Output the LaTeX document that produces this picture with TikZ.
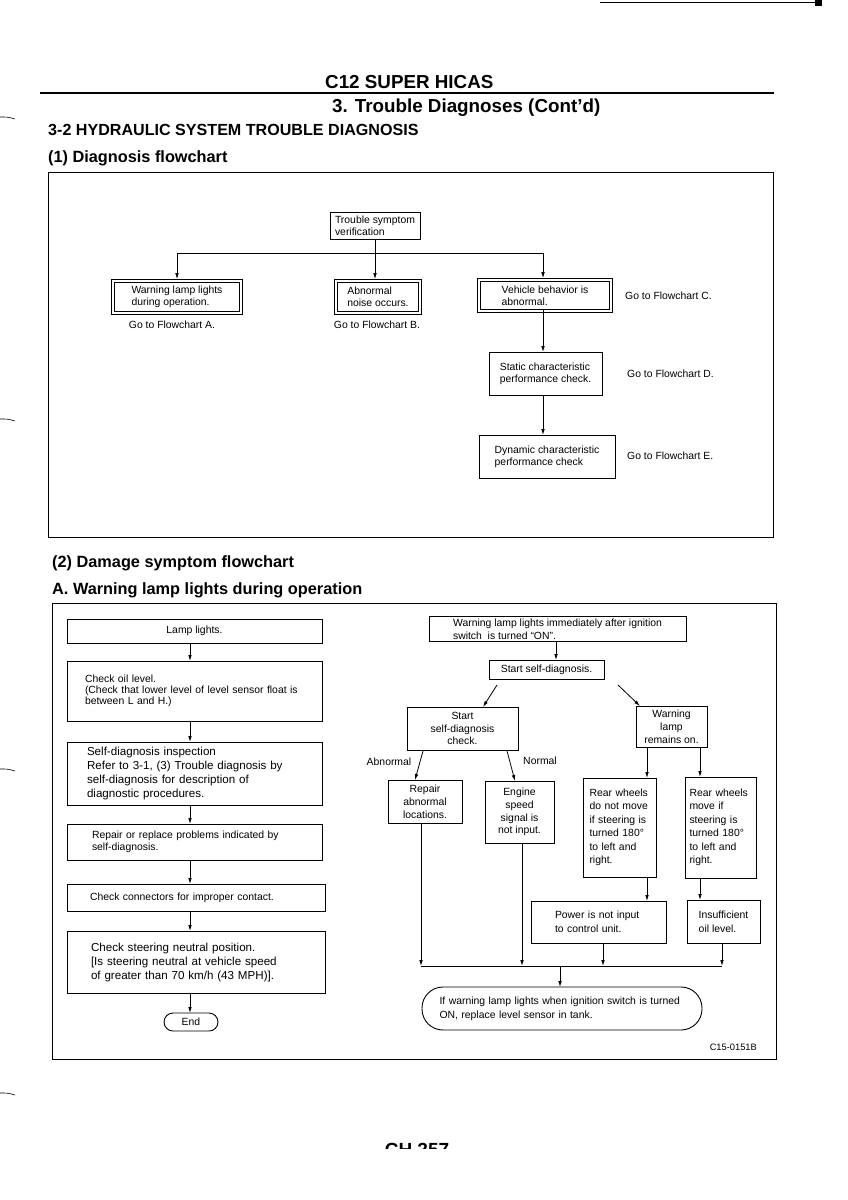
\documentclass[tikz,border=0pt]{standalone}
\usepackage{fontspec}
\setmainfont{Liberation Sans}
\usetikzlibrary{arrows.meta}
\newcommand\fA{\fontsize{10.4pt}{12pt}\selectfont}
\newcommand\fB{\fontsize{10.4pt}{12.8pt}\selectfont}
\newcommand\fO{\fontsize{10.4pt}{11.2pt}\selectfont}
\newcommand\fC{\fontsize{11.6pt}{14pt}\selectfont}
\newcommand\fH{\fontsize{18.8pt}{22pt}\selectfont\bfseries}
\newcommand\fS{\fontsize{16.3pt}{19pt}\selectfont\bfseries}
\begin{document}
\begin{tikzpicture}[x=1pt,y=-1pt,
  bx/.style={draw, line width=0.9pt, inner sep=0pt, outer sep=0pt, font=\fB, align=center},
  dbx/.style={bx, double, double distance=2pt, line width=0.8pt, font=\fA},
  ln/.style={line width=0.8pt},
  arr/.style={line width=0.8pt, -{Latex[length=6pt,width=3.6pt]}},
  lbl/.style={inner sep=0pt, font=\fA},
  frame/.style={line width=1pt}]
\fill[white] (0,0) rectangle (848,1200);
\useasboundingbox (0,0) rectangle (848,1200);

% scan marks
\draw[line width=0.6pt] (600,2) -- (815,2);
\fill (815,0) rectangle (822,6);
\foreach \yy in {119,421,771,1095}
  \draw[line width=0.6pt] (0,\yy-2) .. controls (8,\yy-2) .. (15,\yy);

% headers
\node[anchor=base west, inner sep=0pt, font=\fH] (h1) at (325,88) {C12 SUPER HICAS};
\draw[line width=2.6pt] (40,93) -- (774,93);
\node[anchor=base west, inner sep=0pt, font=\fH] (h2) at (332,112) {3. Trouble Diagnoses (Cont'd)};
\node[anchor=base west, inner sep=0pt, font=\fontsize{16.1pt}{19pt}\selectfont\bfseries] (h3) at (48,135) {3-2 HYDRAULIC SYSTEM TROUBLE DIAGNOSIS};
\node[anchor=base west, inner sep=0pt, font=\fS] (h4) at (48,162) {(1) Diagnosis flowchart};
\node[anchor=base west, inner sep=0pt, font=\fS] (h5) at (52,567) {(2) Damage symptom flowchart};
\node[anchor=base west, inner sep=0pt, font=\fS] (h6) at (52,594) {A. Warning lamp lights during operation};

% frames
\draw[frame] (48,172) rectangle (773,537);
\draw[frame] (52,603) rectangle (776,1059);

% ---------- Flowchart 1 ----------
\node[bx, font=\fA, minimum width=90pt, minimum height=27pt, align=left] (T) at (375,225.5) {Trouble symptom\\verification};
\node[dbx, minimum width=128pt, minimum height=32pt, align=left] (WL) at (177,297) {Warning lamp lights\\during operation.};
\node[dbx, minimum width=84pt, minimum height=32pt, align=left] (AN) at (378,297) {Abnormal\\noise occurs.};
\node[dbx, minimum width=132pt, minimum height=31pt, align=left] (VB) at (545,295.5) {Vehicle behavior is\\abnormal.};
\node[bx, font=\fA, minimum width=113pt, minimum height=43pt, align=left] (SC) at (545.5,373.5) {Static characteristic\\performance check.};
\node[bx, font=\fA, minimum width=136pt, minimum height=43pt, align=left] (DC) at (547,456.5) {Dynamic characteristic\\performance check};

\node[lbl] (gA) at (172,325) {Go to Flowchart A.};
\node[lbl] (gB) at (377,325) {Go to Flowchart B.};
\node[lbl, anchor=west] (gC) at (625,296) {Go to Flowchart C.};
\node[lbl, anchor=west] (gD) at (627,374) {Go to Flowchart D.};
\node[lbl, anchor=west] (gE) at (627,456) {Go to Flowchart E.};

\coordinate (j1) at (375,253);
\coordinate (jl) at (177,253);
\coordinate (jr) at (543,253);
\draw[ln] (T.south -| j1) -- (j1);
\draw[ln] (jl) -- (jr);
\draw[arr, shorten >=1.8pt] (jl) -- (WL.north -| jl);
\draw[arr, shorten >=1.8pt] (j1) -- (AN.north -| j1);
\draw[arr, shorten >=1.8pt] (jr) -- (VB.north -| jr);
\draw[arr, shorten <=-1.8pt] (VB.south -| jr) -- (SC.north -| jr);
\draw[arr] (SC.south -| jr) -- (DC.north -| jr);

% ---------- Flowchart 2, left ----------
\node[bx, minimum width=255pt, minimum height=24pt] (L1) at (194.5,631) {Lamp lights.};
\node[bx, font=\fO, minimum width=255pt, minimum height=60pt, align=left, text width=219pt] (L2) at (194.5,691) {Check oil level.\\(Check that lower level of level sensor float is\\between L and H.)};
\node[bx, font=\fC, minimum width=255pt, minimum height=63pt, align=left, text width=215pt] (L3) at (194.5,773.5) {Self-diagnosis inspection\\Refer to 3-1, (3) Trouble diagnosis by\\self-diagnosis for description of\\diagnostic procedures.};
\node[bx, font=\fA, minimum width=255pt, minimum height=36pt, align=left, text width=205pt] (L4) at (194.5,842) {Repair or replace problems indicated by\\self-diagnosis.\\[4pt]};
\node[bx, minimum width=258pt, minimum height=27pt, align=left, text width=212pt] (L5) at (196,897.5) {Check connectors for improper contact.};
\node[bx, font=\fC, minimum width=258pt, minimum height=62pt, align=left, text width=210pt] (L6) at (196,962) {Check steering neutral position.\\{[}Is steering neutral at vehicle speed\\of greater than 70 km/h (43 MPH)].};
\node[bx, rounded corners=9pt, minimum width=54pt, minimum height=18pt] (L7) at (191,1022) {End};

\coordinate (xL) at (190,0);
\draw[arr] (L1.south -| xL) -- (L2.north -| xL);
\draw[arr] (L2.south -| xL) -- (L3.north -| xL);
\draw[arr] (L3.south -| xL) -- (L4.north -| xL);
\draw[arr] (L4.south -| xL) -- (L5.north -| xL);
\draw[arr] (L5.south -| xL) -- (L6.north -| xL);
\draw[arr] (L6.south -| xL) -- (L7.north -| xL);

% ---------- Flowchart 2, right ----------
\node[bx, minimum width=257pt, minimum height=25pt, align=left] (R1) at (557.5,629) {Warning lamp lights immediately after ignition\\switch\ \ is turned ``ON''.};
\node[bx, minimum width=115pt, minimum height=19pt] (R2) at (546.5,669.5) {Start self-diagnosis.};
\node[bx, minimum width=111pt, minimum height=43pt] (R3) at (462.5,728.5) {Start\\self-diagnosis\\check.};
\node[bx, minimum width=71pt, minimum height=41pt] (R4) at (671.5,726.5) {Warning\\lamp\\remains on.};
\node[bx, minimum width=74pt, minimum height=43pt] (R5) at (425,801.5) {Repair\\abnormal\\locations.};
\node[bx, minimum width=69pt, minimum height=62pt] (R6) at (519.5,812) {Engine\\speed\\signal is\\not input.};
\node[bx, font=\fontsize{10.4pt}{13.5pt}\selectfont, minimum width=73pt, minimum height=99pt, align=left, text width=60pt] (R7) at (619.5,827.5) {Rear wheels\\do not move\\if steering is\\turned 180°\\to left and\\right.};
\node[bx, font=\fontsize{10.4pt}{13.5pt}\selectfont, minimum width=71pt, minimum height=101pt, align=left, text width=62pt] (R8) at (720.5,827.5) {Rear wheels\\move if\\steering is\\turned 180°\\to left and\\right.};
\node[bx, font=\fontsize{10.4pt}{14pt}\selectfont, minimum width=135pt, minimum height=42pt, align=left, text width=87pt] (R9) at (598.5,922) {Power is not input\\to control unit.};
\node[bx, font=\fontsize{10.4pt}{14pt}\selectfont, minimum width=73pt, minimum height=43pt, align=left] (R10) at (723.5,921.5) {Insufficient\\oil level.};
\node[bx, font=\fontsize{10.4pt}{14pt}\selectfont, rounded corners=21pt, minimum width=280pt, minimum height=43pt, align=left, text width=245pt] (R11) at (562,1008.5) {If warning lamp lights when ignition switch is turned\\ON, replace level sensor in tank.};

\node[lbl] (lab1) at (389,762) {Abnormal};
\node[lbl] (lab2) at (540,761) {Normal};
\node[lbl, anchor=east, font=\fontsize{9.3pt}{11pt}\selectfont] (code) at (757,1047) {C15-0151B};

\coordinate (c1) at (556,0);
\draw[arr] (R1.south -| c1) -- (R2.north -| c1);
\coordinate (d1) at (497,685); \coordinate (d2) at (483,0);
\draw[arr] (d1) -- (R3.north -| d2);
\coordinate (d3) at (618,685); \coordinate (d4) at (640,0);
\draw[arr] (d3) -- (R4.north -| d4);
\coordinate (d5) at (423,751); \coordinate (d6) at (415,0);
\draw[arr] (d5) -- (R5.north -| d6);
\coordinate (d7) at (507,751); \coordinate (d8) at (515,0);
\draw[arr] (d7) -- (R6.north -| d8);

\coordinate (xa) at (647,0); \coordinate (xb) at (700,0);
\coordinate (xr) at (421,0); \coordinate (xe) at (522,0);
\coordinate (xp) at (603,0); \coordinate (xi) at (722,0);
\coordinate (xm) at (560,0); \coordinate (bot) at (0,966);
\draw[arr] (R4.south -| xa) -- (R7.north -| xa);
\draw[arr] (R4.south -| xb) -- (R8.north -| xb);
\draw[arr] (R7.south -| xa) -- (R9.north -| xa);
\draw[arr] (R8.south -| xb) -- (R10.north -| xb);
\draw[arr] (R5.south -| xr) -- (bot -| xr);
\draw[arr] (R6.south -| xe) -- (bot -| xe);
\draw[arr] (R9.south -| xp) -- (bot -| xp);
\draw[arr] (R10.south -| xi) -- (bot -| xi);
\draw[ln] (bot -| xr) -- (bot -| xi);
\draw[arr] (bot -| xm) -- (R11.north -| xm);

% page number (cut off in scan)
\begin{scope}
\clip (360,1128) rectangle (480,1148);
\node[anchor=base, inner sep=0pt, font=\fontsize{19pt}{22pt}\selectfont\bfseries] (pg) at (417,1156) {CH 257};
\end{scope}
\end{tikzpicture}
\end{document}
